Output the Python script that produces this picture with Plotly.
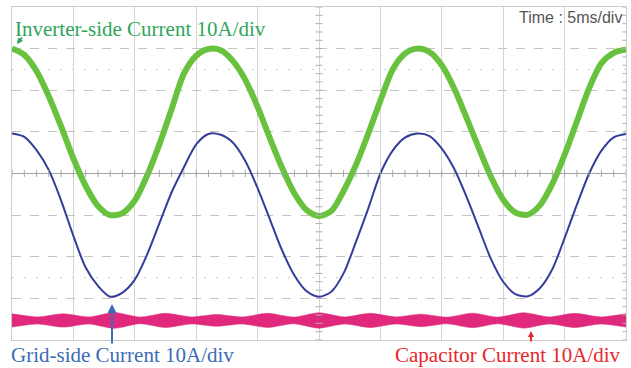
import plotly.graph_objects as go

W, H = 631, 368

# ---- data (time in ms, 5 ms/div; current in A, 10 A/div) ----
time_ms = list(range(0, 51))

inverter_current = [30.0, 28.5, 24.6, 18.5, 11.3, 3.6, -3.0, -7.8, -10.0, -9.5,
                    -6.5, -0.5, 7.0, 15.5, 24.0, 28.3, 29.9, 29.6, 27.0, 22.5,
                    16.0, 8.5, 1.3, -4.8, -8.8, -10.2, -9.0, -4.2, 2.0, 9.5,
                    17.5, 25.0, 28.8, 30.0, 29.2, 26.0, 20.5, 13.5, 6.2, -0.8,
                    -6.3, -9.4, -9.9, -7.6, -2.5, 4.5, 12.5, 20.5, 26.5, 29.0,
                    29.8]

grid_current = [9.6, 8.8, 5.6, 0.8, -6.5, -15.0, -22.6, -27.0, -29.6, -28.6,
                -25.5, -19.5, -12.0, -4.5, 1.5, 7.0, 9.5, 9.3, 7.4, 3.0,
                -3.5, -11.0, -18.5, -24.5, -28.3, -29.6, -28.4, -24.0, -16.5, -8.5,
                0.0, 5.5, 8.6, 9.6, 9.0, 6.0, 1.2, -5.5, -13.0, -20.5,
                -26.0, -29.0, -29.5, -27.5, -23.0, -15.5, -7.5, 0.0, 5.5, 8.7,
                9.5]

cap_time_ms = [0, 2.08, 4.17, 6.25, 8.33, 10.42, 12.5, 14.58, 16.67, 18.75,
               20.83, 22.92, 25, 27.08, 29.17, 31.25, 33.33, 35.42, 37.5, 39.58,
               41.67, 43.75, 45.83, 47.92, 50]
cap_center = -35.3
cap_halfwidth = [1.6, 0.85, 1.6, 0.85, 1.9, 0.8, 1.7, 0.85, 1.4, 0.85,
                 1.7, 0.8, 1.85, 0.85, 1.7, 0.85, 1.5, 0.8, 1.75, 0.8,
                 1.85, 0.85, 1.7, 0.85, 1.6]

cap_upper = [cap_center + h for h in cap_halfwidth]
cap_lower = [cap_center - h for h in cap_halfwidth]

# ---- figure ----
fig = go.Figure()

# capacitor current ripple band
fig.add_trace(go.Scatter(x=cap_time_ms, y=cap_lower, mode="lines",
                         line=dict(width=0.5, color="#e0287d", shape="spline", smoothing=0.7),
                         hoverinfo="skip"))
fig.add_trace(go.Scatter(x=cap_time_ms, y=cap_upper, mode="lines", fill="tonexty",
                         fillcolor="#e0287d",
                         line=dict(width=0.5, color="#e0287d", shape="spline", smoothing=0.7),
                         hoverinfo="skip"))

# grid-side current
fig.add_trace(go.Scatter(x=time_ms, y=grid_current, mode="lines",
                         line=dict(width=2, color="#343c9c", shape="spline", smoothing=0.8)))

# inverter-side current
fig.add_trace(go.Scatter(x=time_ms, y=inverter_current, mode="lines",
                         line=dict(width=6, color="#68c23e", shape="spline", smoothing=0.8)))

# tick marks on the centre lines and right edge
tick_x = [i * 1.0 for i in range(51)]
fig.add_trace(go.Scatter(x=tick_x, y=[0] * len(tick_x), mode="markers",
                         marker=dict(symbol="line-ns", size=5,
                                     line=dict(width=1, color="#a8a8a8")),
                         hoverinfo="skip"))
tick_y = [-40 + 2.0 * i for i in range(41)]
for xc in (25, 50):
    fig.add_trace(go.Scatter(x=[xc] * len(tick_y), y=tick_y, mode="markers",
                             marker=dict(symbol="line-ew", size=5,
                                         line=dict(width=1, color="#b0b0b0")),
                             hoverinfo="skip"))

# faint dotted marker lines at +/-2.5 div
for yv in (25, -25):
    fig.add_shape(type="line", xref="x", yref="y", x0=0, x1=50, y0=yv, y1=yv,
                  line=dict(color="#cfcfcf", width=1, dash="2px,10px"), layer="below")

x0p, x1p = 12 / W, 626 / W
y0p, y1p = 1 - 340 / H, 1 - 7 / H

fig.update_xaxes(range=[0, 50], domain=[x0p, x1p], dtick=5, tick0=0,
                 showticklabels=False, ticks="", showgrid=True,
                 gridcolor="#d4d4d4", gridwidth=1, zeroline=False,
                 showline=True, mirror=True, linecolor="#cccccc", linewidth=1)
fig.update_yaxes(range=[-40, 40], domain=[y0p, y1p], dtick=10, tick0=0,
                 showticklabels=False, ticks="", showgrid=True,
                 gridcolor="#c4c4c4", gridwidth=1, griddash="dash",
                 zeroline=True, zerolinecolor="#a4a4a4", zerolinewidth=1,
                 showline=True, mirror=True, linecolor="#cccccc", linewidth=1)

def px(x):
    return x / W

def py(y):
    return 1 - y / H

serif = "Liberation Serif, Times New Roman, serif"
annotations = [
    dict(x=px(13), y=py(29), xref="paper", yref="paper", xanchor="left", yanchor="middle",
         text="Inverter-side Current 10A/div", showarrow=False,
         font=dict(family=serif, size=21, color="#2ea65a")),
    dict(x=px(624), y=py(17), xref="paper", yref="paper", xanchor="right", yanchor="middle",
         text="Time : 5ms/div", showarrow=False,
         font=dict(family="Liberation Sans, Arial, sans-serif", size=16, color="#555555")),
    dict(x=px(9), y=py(355), xref="paper", yref="paper", xanchor="left", yanchor="middle",
         text="Grid-side Current 10A/div", showarrow=False,
         font=dict(family=serif, size=21, color="#3b6cb5")),
    dict(x=px(623), y=py(355), xref="paper", yref="paper", xanchor="right", yanchor="middle",
         text="Capacitor Current 10A/div", showarrow=False,
         font=dict(family=serif, size=21, color="#e8262b")),
    # arrows
    dict(x=px(112), y=py(304), xref="paper", yref="paper", text="", showarrow=True,
         ax=0, ay=41, arrowhead=2, arrowsize=0.9, arrowwidth=2, arrowcolor="#3b6cb5"),
    dict(x=px(531), y=py(331), xref="paper", yref="paper", text="", showarrow=True,
         ax=0, ay=12, arrowhead=2, arrowsize=0.6, arrowwidth=2, arrowcolor="#e8262b"),
    dict(x=px(17), y=py(44), xref="paper", yref="paper", text="", showarrow=True,
         ax=6, ay=-8, arrowhead=2, arrowsize=0.6, arrowwidth=2, arrowcolor="#2ea65a"),
]

fig.update_layout(width=W, height=H, margin=dict(l=0, r=0, t=0, b=0),
                  paper_bgcolor="white", plot_bgcolor="white",
                  showlegend=False, annotations=annotations)

fig.write_html("out.html")
